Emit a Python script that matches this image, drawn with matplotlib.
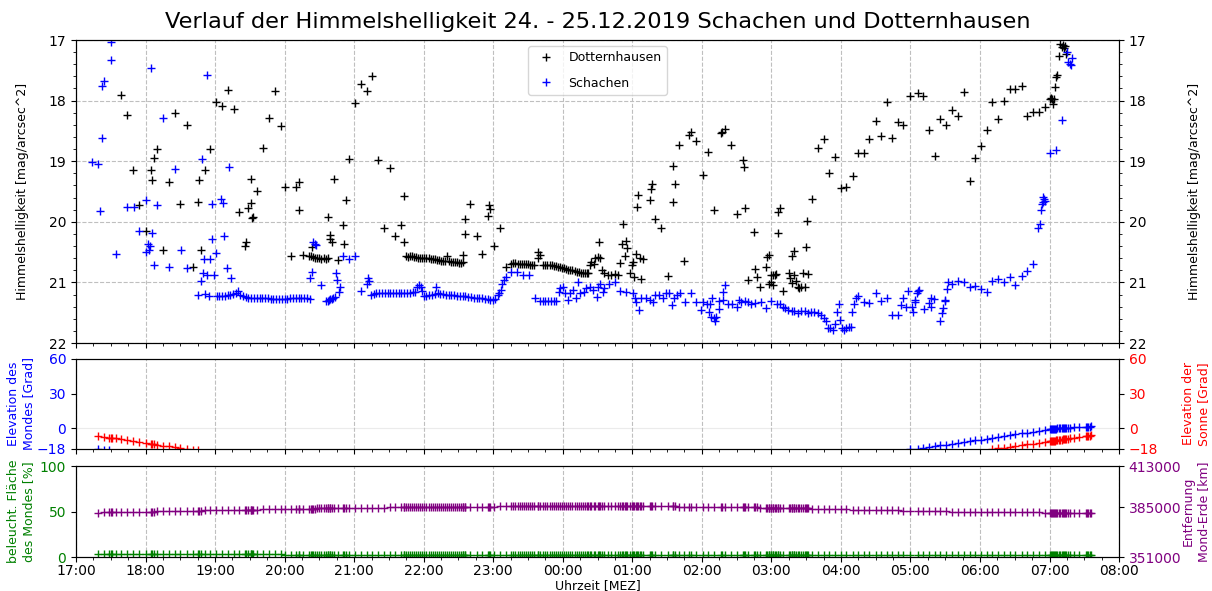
import matplotlib
matplotlib.use('Agg')
import matplotlib.pyplot as plt
from matplotlib.ticker import MultipleLocator, FuncFormatter

# Uhrzeit in Stunden ab 24.12. 00:00 (Werte >= 24 liegen am 25.12.)
# Dotternhausen: (Uhrzeit, Himmelshelligkeit [mag/arcsec^2])
dotternhausen = [
    (17.32, 15.6), (17.40, 16.1), (17.48, 16.5), (17.50, 16.6), (17.52, 16.7), (17.57, 16.9),
    (17.65, 17.91), (17.74, 18.24), (17.82, 19.15), (17.91, 19.73),
    (18.00, 20.15), (18.08, 19.14), (18.09, 19.31), (18.12, 18.95), (18.17, 18.80), (18.25, 20.47),
    (18.34, 19.34), (18.42, 18.20), (18.50, 19.70), (18.59, 18.40), (18.68, 20.75), (18.76, 19.68),
    (18.77, 19.31), (18.80, 20.47), (18.86, 19.14), (18.93, 18.80),
    (19.01, 18.02), (19.10, 18.09), (19.18, 17.82), (19.27, 18.14), (19.35, 19.84), (19.43, 20.40),
    (19.45, 20.33), (19.47, 19.77), (19.51, 19.69), (19.52, 19.29), (19.53, 19.93), (19.55, 19.92),
    (19.61, 19.49), (19.69, 18.78), (19.78, 18.29), (19.86, 17.84), (19.95, 18.42),
    (20.01, 19.43), (20.09, 20.57), (20.17, 19.43), (20.20, 19.80), (20.21, 19.35), (20.26, 20.54),
    (20.35, 20.57), (20.38, 20.57), (20.39, 20.42), (20.41, 20.58), (20.44, 20.60), (20.47, 20.60),
    (20.50, 20.60), (20.53, 20.61), (20.56, 20.60), (20.59, 20.61), (20.62, 20.60), (20.63, 19.92),
    (20.65, 20.21), (20.66, 20.29), (20.68, 20.33), (20.71, 19.29), (20.77, 20.63), (20.84, 20.05),
    (20.86, 20.37), (20.88, 19.64), (20.93, 18.96),
    (21.01, 18.04), (21.10, 17.72), (21.18, 17.84), (21.26, 17.60), (21.34, 18.98), (21.43, 20.10),
    (21.51, 19.12), (21.59, 20.24), (21.68, 20.06), (21.71, 19.57), (21.72, 20.33), (21.74, 20.57),
    (21.77, 20.58), (21.80, 20.56), (21.83, 20.57), (21.86, 20.58), (21.89, 20.58), (21.92, 20.59),
    (21.95, 20.59), (21.98, 20.59),
    (22.01, 20.60), (22.04, 20.60), (22.07, 20.60), (22.10, 20.61), (22.13, 20.62), (22.16, 20.62),
    (22.19, 20.63), (22.22, 20.63), (22.25, 20.64), (22.28, 20.64), (22.31, 20.65), (22.33, 20.57),
    (22.36, 20.65), (22.39, 20.66), (22.42, 20.66), (22.45, 20.67), (22.48, 20.67), (22.51, 20.68),
    (22.54, 20.68), (22.56, 20.67), (22.57, 20.55), (22.59, 20.20), (22.60, 19.96), (22.67, 19.70),
    (22.76, 20.24), (22.84, 20.53), (22.92, 19.90), (22.94, 19.73), (22.96, 19.79),
    (23.01, 20.40), (23.10, 20.10), (23.18, 20.74), (23.26, 20.70), (23.29, 20.68), (23.32, 20.68),
    (23.35, 20.69), (23.38, 20.69), (23.41, 20.70), (23.44, 20.70), (23.47, 20.70), (23.50, 20.70),
    (23.53, 20.71), (23.56, 20.71), (23.59, 20.71), (23.64, 20.60), (23.65, 20.49), (23.67, 20.55),
    (23.72, 20.71), (23.75, 20.71), (23.78, 20.72), (23.81, 20.72), (23.84, 20.72), (23.87, 20.73),
    (23.90, 20.73), (23.93, 20.74), (23.96, 20.75), (23.99, 20.76),
    (24.02, 20.77), (24.05, 20.78), (24.08, 20.79), (24.11, 20.79), (24.14, 20.80), (24.17, 20.81),
    (24.20, 20.82), (24.23, 20.83), (24.26, 20.84), (24.29, 20.84), (24.32, 20.85), (24.35, 20.85),
    (24.37, 20.85), (24.39, 20.71), (24.41, 20.66), (24.45, 20.69), (24.47, 20.60), (24.50, 20.58),
    (24.52, 20.33), (24.53, 20.60), (24.56, 20.80), (24.60, 20.85), (24.65, 20.88), (24.70, 20.87),
    (24.75, 20.86), (24.80, 20.87), (24.83, 20.68), (24.85, 20.37), (24.87, 20.04), (24.89, 20.57),
    (24.91, 20.32), (24.93, 20.43), (24.96, 20.85), (24.99, 20.71),
    (25.01, 20.66), (25.03, 20.91), (25.06, 20.53), (25.07, 19.75), (25.08, 19.56), (25.11, 20.59),
    (25.13, 20.95), (25.16, 20.62), (25.25, 19.64), (25.27, 19.46), (25.28, 19.37), (25.33, 19.96),
    (25.41, 20.11), (25.51, 20.90), (25.58, 19.68), (25.59, 19.08), (25.61, 19.38), (25.67, 18.73),
    (25.75, 20.64), (25.82, 18.57), (25.84, 18.52), (25.91, 18.67),
    (26.01, 19.22), (26.09, 18.85), (26.18, 19.81), (26.27, 18.53), (26.29, 18.52), (26.34, 18.47),
    (26.42, 18.74), (26.51, 19.87), (26.59, 18.98), (26.60, 19.09), (26.62, 19.78), (26.67, 20.96),
    (26.75, 20.16), (26.77, 20.78), (26.79, 20.91), (26.84, 21.07), (26.92, 20.74), (26.94, 20.58),
    (26.96, 20.55), (26.97, 21.02), (26.99, 20.99),
    (27.00, 20.87), (27.02, 21.04), (27.03, 20.87), (27.05, 20.87), (27.07, 20.86), (27.09, 20.18),
    (27.10, 19.84), (27.12, 19.78), (27.17, 21.14), (27.25, 20.84), (27.27, 20.93), (27.29, 21.01),
    (27.30, 20.56), (27.32, 20.48), (27.33, 20.87), (27.36, 20.98), (27.38, 21.08), (27.40, 21.10),
    (27.43, 21.07), (27.46, 20.84), (27.49, 21.07), (27.50, 20.42), (27.51, 19.98), (27.53, 20.86),
    (27.59, 19.63), (27.67, 18.78), (27.75, 18.64), (27.83, 19.19), (27.91, 18.93),
    (28.00, 19.45), (28.08, 19.42), (28.17, 19.24), (28.25, 18.87), (28.33, 18.87), (28.41, 18.64),
    (28.50, 18.33), (28.58, 18.58), (28.66, 18.02), (28.74, 18.62), (28.82, 18.36), (28.90, 18.41),
    (28.99, 17.93),
    (29.11, 17.87), (29.18, 17.93), (29.27, 18.48), (29.35, 18.92), (29.43, 18.30), (29.51, 18.41),
    (29.60, 18.15), (29.68, 18.25), (29.77, 17.86), (29.85, 19.33), (29.93, 18.95),
    (30.01, 18.75), (30.10, 18.48), (30.18, 18.03), (30.26, 18.30), (30.35, 18.01), (30.43, 17.81),
    (30.51, 17.81), (30.60, 17.76), (30.68, 18.26), (30.76, 18.19), (30.85, 18.18), (30.93, 18.11),
    (31.01, 17.97), (31.02, 17.95), (31.03, 17.98), (31.05, 18.05), (31.07, 17.97), (31.08, 17.77),
    (31.10, 17.61), (31.11, 17.57), (31.13, 17.26), (31.15, 17.06), (31.18, 17.12), (31.20, 17.09),
    (31.21, 17.14), (31.23, 17.10), (31.24, 17.23), (31.27, 16.9), (31.30, 16.8), (31.35, 16.6),
    (31.43, 16.3), (31.52, 16.0), (31.54, 15.9), (31.56, 15.9), (31.58, 15.8), (31.60, 15.7),
]

# Schachen: (Uhrzeit, Himmelshelligkeit [mag/arcsec^2])
schachen = [
    (17.23, 19.02), (17.32, 19.04), (17.34, 19.82), (17.37, 17.76), (17.38, 18.62), (17.40, 17.68),
    (17.50, 17.33), (17.51, 17.04), (17.58, 20.53), (17.74, 19.75), (17.83, 19.76), (17.91, 20.15),
    (18.00, 20.49), (18.01, 19.64), (18.04, 20.37), (18.05, 20.47), (18.07, 20.40), (18.08, 17.46),
    (18.10, 20.18), (18.12, 20.71), (18.17, 19.73), (18.25, 18.29), (18.34, 20.75), (18.42, 19.13),
    (18.51, 20.46), (18.59, 20.77), (18.76, 21.20), (18.80, 20.98), (18.81, 18.96), (18.82, 20.85),
    (18.84, 20.62), (18.86, 21.19), (18.88, 17.57), (18.89, 20.87), (18.91, 21.23), (18.93, 20.62),
    (18.95, 20.28), (18.96, 19.70), (18.98, 20.88), (19.02, 20.52), (19.03, 21.22), (19.06, 21.23),
    (19.08, 19.63), (19.10, 21.23), (19.12, 19.69), (19.13, 20.23), (19.14, 21.22), (19.17, 20.77),
    (19.18, 21.21), (19.20, 19.10), (19.22, 21.21), (19.23, 20.92), (19.26, 21.19), (19.30, 21.17),
    (19.33, 21.14), (19.36, 21.21), (19.40, 21.23), (19.44, 21.24), (19.48, 21.25), (19.52, 21.25),
    (19.56, 21.26), (19.60, 21.26), (19.64, 21.26), (19.68, 21.26), (19.72, 21.26), (19.76, 21.26),
    (19.80, 21.27), (19.84, 21.27), (19.88, 21.27), (19.92, 21.27), (19.96, 21.27), (20.00, 21.28),
    (20.04, 21.27), (20.08, 21.26), (20.12, 21.26), (20.16, 21.26), (20.20, 21.26), (20.24, 21.26),
    (20.28, 21.26), (20.32, 21.26), (20.36, 21.27), (20.37, 20.92), (20.40, 20.82), (20.41, 20.34),
    (20.44, 20.36), (20.45, 20.38), (20.52, 21.05), (20.59, 21.30), (20.62, 21.30), (20.64, 21.29),
    (20.66, 21.28), (20.68, 21.27), (20.70, 21.25), (20.72, 21.24), (20.74, 20.84), (20.76, 20.96),
    (20.78, 21.16), (20.79, 21.08), (20.84, 20.57), (20.92, 20.62), (21.01, 20.56), (21.10, 21.14),
    (21.18, 21.03), (21.20, 20.93), (21.22, 20.98), (21.24, 21.20), (21.28, 21.19), (21.32, 21.18),
    (21.36, 21.18), (21.40, 21.17), (21.44, 21.17), (21.48, 21.17), (21.52, 21.17), (21.56, 21.17),
    (21.60, 21.17), (21.64, 21.17), (21.68, 21.17), (21.72, 21.17), (21.76, 21.17), (21.80, 21.17),
    (21.84, 21.16), (21.88, 21.15), (21.90, 21.08), (21.93, 21.04), (21.96, 21.08), (21.98, 21.14),
    (22.00, 21.23), (22.04, 21.22), (22.08, 21.21), (22.12, 21.20), (22.16, 21.19), (22.18, 21.07),
    (22.20, 21.18), (22.24, 21.19), (22.28, 21.19), (22.32, 21.20), (22.36, 21.20), (22.40, 21.21),
    (22.44, 21.21), (22.48, 21.22), (22.52, 21.22), (22.56, 21.23), (22.60, 21.23), (22.64, 21.24),
    (22.68, 21.24), (22.72, 21.25), (22.76, 21.25), (22.80, 21.26), (22.84, 21.26), (22.88, 21.27),
    (22.92, 21.28), (22.96, 21.29), (23.00, 21.29), (23.03, 21.28), (23.07, 21.21), (23.09, 21.18),
    (23.11, 21.13), (23.13, 21.02), (23.16, 20.96), (23.18, 20.91), (23.26, 20.82), (23.34, 20.82),
    (23.43, 20.87), (23.52, 20.87), (23.60, 21.26), (23.67, 21.30), (23.71, 21.30), (23.75, 21.31),
    (23.79, 21.31), (23.83, 21.31), (23.87, 21.31), (23.91, 21.30), (23.94, 21.15), (23.96, 21.10),
    (24.00, 21.07), (24.03, 21.18), (24.08, 21.29), (24.11, 21.18), (24.15, 21.13), (24.19, 21.26),
    (24.22, 20.99), (24.25, 21.18), (24.30, 21.15), (24.34, 21.10), (24.39, 21.07), (24.44, 21.13),
    (24.49, 21.24), (24.51, 21.07), (24.53, 21.02), (24.58, 21.15), (24.60, 21.10), (24.67, 21.03),
    (24.75, 20.99), (24.83, 21.14), (24.91, 21.16), (25.01, 21.18), (25.04, 21.26), (25.06, 21.32),
    (25.10, 21.45), (25.13, 21.26), (25.20, 21.26), (25.25, 21.29), (25.30, 21.32), (25.33, 21.21),
    (25.39, 21.21), (25.44, 21.26), (25.49, 21.18), (25.53, 21.18), (25.57, 21.38), (25.60, 21.26),
    (25.65, 21.21), (25.69, 21.18), (25.76, 21.32), (25.84, 21.17), (25.91, 21.32), (25.99, 21.46),
    (26.02, 21.32), (26.08, 21.35), (26.10, 21.48), (26.12, 21.35), (26.13, 21.57), (26.15, 21.25),
    (26.17, 21.58), (26.19, 21.64), (26.20, 21.57), (26.24, 21.44), (26.25, 21.30), (26.30, 21.29),
    (26.31, 21.15), (26.33, 21.05), (26.37, 21.35), (26.43, 21.35), (26.51, 21.40), (26.54, 21.29),
    (26.57, 21.32), (26.62, 21.30), (26.67, 21.32), (26.71, 21.36), (26.76, 21.34), (26.85, 21.32),
    (26.93, 21.43), (27.00, 21.30), (27.08, 21.36), (27.12, 21.35), (27.17, 21.40), (27.20, 21.43),
    (27.24, 21.46), (27.29, 21.47), (27.33, 21.47), (27.38, 21.51), (27.43, 21.47), (27.48, 21.47),
    (27.52, 21.51), (27.57, 21.48), (27.62, 21.49), (27.67, 21.51), (27.71, 21.54), (27.75, 21.59),
    (27.78, 21.63), (27.81, 21.76), (27.85, 21.75), (27.88, 21.79), (27.92, 21.68), (27.94, 21.48),
    (27.97, 21.35), (27.99, 21.62), (28.01, 21.76), (28.05, 21.79), (28.08, 21.75), (28.12, 21.74),
    (28.14, 21.73), (28.16, 21.48), (28.19, 21.35), (28.22, 21.26), (28.25, 21.23), (28.33, 21.32),
    (28.41, 21.34), (28.50, 21.18), (28.58, 21.30), (28.66, 21.26), (28.74, 21.53), (28.82, 21.53),
    (28.86, 21.37), (28.89, 21.26), (28.93, 21.40), (28.97, 21.14), (29.02, 21.40), (29.04, 21.49),
    (29.06, 21.32), (29.07, 21.29), (29.09, 21.18), (29.11, 21.14), (29.12, 21.13), (29.19, 21.44),
    (29.26, 21.34), (29.29, 21.40), (29.30, 21.26), (29.34, 21.27), (29.43, 21.64), (29.45, 21.51),
    (29.47, 21.43), (29.49, 21.31), (29.50, 21.29), (29.52, 21.11), (29.54, 21.00), (29.60, 21.03),
    (29.68, 20.97), (29.77, 21.00), (29.85, 21.07), (29.93, 21.06), (30.01, 21.11), (30.10, 21.15),
    (30.18, 20.97), (30.26, 20.95), (30.35, 21.00), (30.43, 20.91), (30.51, 21.05), (30.60, 20.89),
    (30.68, 20.81), (30.76, 20.70), (30.84, 20.10), (30.86, 20.04), (30.88, 19.81), (30.89, 19.71),
    (30.90, 19.59), (30.91, 19.68), (30.92, 19.62), (30.94, 19.65), (31.01, 18.86), (31.10, 18.82),
    (31.18, 18.32), (31.25, 17.20), (31.27, 17.37), (31.29, 17.40), (31.31, 17.41), (31.32, 17.30),
]

# Entfernung Mond-Erde [1000 km] zu den Messzeiten von Dotternhausen
entf_mond = [
    381.3, 381.4, 381.4, 381.4, 381.5, 381.5, 381.6, 381.7, 381.7, 381.8,
    381.9, 382.0, 382.0, 382.0, 382.1, 382.1, 382.2, 382.3, 382.4, 382.4, 382.5, 382.6, 382.6, 382.6,
    382.7, 382.7,
    382.8, 382.9, 383.0, 383.0, 383.1, 383.2, 383.2, 383.2, 383.3, 383.3, 383.3, 383.3, 383.3, 383.4,
    383.5, 383.5, 383.6,
    383.7, 383.7, 383.8, 383.8, 383.8, 383.9, 384.0, 384.0, 384.0, 384.0, 384.0, 384.1, 384.1, 384.1,
    384.1, 384.2, 384.2, 384.2, 384.2, 384.2, 384.2, 384.3, 384.3, 384.4, 384.4, 384.4, 384.4,
    384.5, 384.5, 384.6, 384.6, 384.7, 384.7, 384.8, 384.8, 384.9, 384.9, 384.9, 384.9, 384.9, 385.0,
    385.0, 385.0, 385.0, 385.0, 385.0, 385.1,
    385.1, 385.1, 385.1, 385.1, 385.1, 385.2, 385.2, 385.2, 385.2, 385.2, 385.2, 385.2, 385.3, 385.3,
    385.3, 385.3, 385.3, 385.3, 385.3, 385.3, 385.3, 385.3, 385.3, 385.3, 385.4, 385.4, 385.4, 385.4,
    385.4,
    385.4, 385.5, 385.5, 385.5, 385.5, 385.5, 385.5, 385.5, 385.5, 385.5, 385.5, 385.5, 385.5, 385.5,
    385.5, 385.6, 385.6, 385.6, 385.6, 385.6, 385.6, 385.6, 385.6, 385.6, 385.6, 385.6, 385.6, 385.6,
    385.6, 385.6, 385.6, 385.6, 385.6, 385.6, 385.6, 385.6, 385.6, 385.6, 385.6, 385.6, 385.6, 385.6,
    385.6, 385.6, 385.6, 385.6, 385.6, 385.6, 385.6, 385.6, 385.6, 385.6, 385.6, 385.6, 385.6, 385.6,
    385.6, 385.6, 385.6, 385.6, 385.6, 385.6,
    385.6, 385.6, 385.6, 385.6, 385.6, 385.6, 385.6, 385.6, 385.6, 385.5, 385.5, 385.5, 385.5, 385.5,
    385.5, 385.5, 385.5, 385.4, 385.4, 385.4, 385.4, 385.4,
    385.3, 385.3, 385.3, 385.2, 385.2, 385.2, 385.1, 385.0, 385.0, 385.0, 384.9, 384.9, 384.8, 384.8,
    384.8, 384.7, 384.6, 384.6, 384.6, 384.6, 384.6,
    384.5, 384.5, 384.5, 384.5, 384.5, 384.5, 384.5, 384.5, 384.4, 384.4, 384.3, 384.3, 384.3, 384.3,
    384.3, 384.2, 384.2, 384.2, 384.2, 384.1, 384.1, 384.1, 384.1, 384.1, 384.0, 383.9, 383.8, 383.7,
    383.6,
    383.5, 383.4, 383.3, 383.2, 383.1, 383.0, 382.9, 382.9, 382.8, 382.7, 382.7, 382.6, 382.5,
    382.4, 382.4, 382.3, 382.2, 382.2, 382.1, 382.0, 382.0, 381.9, 381.9, 381.8,
    381.8, 381.7, 381.7, 381.6, 381.6, 381.5, 381.5, 381.5, 381.4, 381.4, 381.4, 381.3,
    381.3, 381.3, 381.3, 381.3, 381.3, 381.3, 381.3, 381.3, 381.3, 381.3, 381.3, 381.3, 381.3, 381.3,
    381.3, 381.2, 381.2, 381.2, 381.2, 381.2, 381.2, 381.2, 381.2, 381.2,
]

# beleuchtete Flaeche des Mondes [%] zu den Messzeiten von Dotternhausen
flaeche_mond = [
    2.9, 2.9, 2.9, 2.9, 2.9, 2.9, 2.9, 2.9, 2.9, 2.9,
    2.9, 2.9, 2.9, 2.9, 2.9, 2.9, 2.9, 2.9, 2.9, 2.9, 2.9, 2.9, 2.9, 2.9, 2.9, 2.9,
    2.8, 2.8, 2.8, 2.8, 2.8, 2.8, 2.8, 2.8, 2.8, 2.8, 2.8, 2.8, 2.8, 2.8, 2.8, 2.8, 2.8,
    2.7, 2.7, 2.7, 2.7, 2.7, 2.7, 2.7, 2.7, 2.7, 2.7, 2.7, 2.7, 2.7, 2.7, 2.7, 2.7, 2.7, 2.7,
    2.7, 2.7, 2.7, 2.7, 2.7, 2.7, 2.7, 2.7, 2.7,
    2.6, 2.6, 2.6, 2.6, 2.6, 2.6, 2.6, 2.6, 2.6, 2.6, 2.6, 2.6, 2.6, 2.6, 2.6, 2.6, 2.6, 2.6, 2.6, 2.6,
    2.6, 2.6, 2.6, 2.6, 2.6, 2.6, 2.6, 2.6, 2.6, 2.6, 2.6, 2.6, 2.6, 2.6, 2.6, 2.6, 2.6, 2.6, 2.6, 2.6,
    2.6, 2.6, 2.6, 2.6, 2.6, 2.6, 2.6, 2.6, 2.6,
    2.5, 2.5, 2.5, 2.5, 2.5, 2.5, 2.5, 2.5, 2.5, 2.5, 2.5, 2.5, 2.5, 2.5, 2.5, 2.5, 2.5, 2.5, 2.5, 2.5,
    2.5, 2.5, 2.5, 2.5, 2.5, 2.5, 2.5, 2.5,
    2.4, 2.4, 2.4, 2.4, 2.4, 2.4, 2.4, 2.4, 2.4, 2.4, 2.4, 2.4, 2.4, 2.4, 2.4, 2.4, 2.4, 2.4, 2.4, 2.4,
    2.4, 2.4, 2.4, 2.4, 2.4, 2.4, 2.4, 2.4, 2.4, 2.4, 2.4, 2.4, 2.4, 2.4,
    2.3, 2.3, 2.3, 2.3, 2.3, 2.3, 2.3, 2.3, 2.3, 2.3, 2.3, 2.3, 2.3, 2.3, 2.3, 2.3, 2.3, 2.3, 2.3, 2.3,
    2.3, 2.3,
    2.2, 2.2, 2.2, 2.2, 2.2, 2.2, 2.2, 2.2, 2.2, 2.2, 2.2, 2.2, 2.2, 2.2, 2.2, 2.2, 2.2, 2.2, 2.2, 2.2,
    2.2,
    2.1, 2.1, 2.1, 2.1, 2.1, 2.1, 2.1, 2.1, 2.1, 2.1, 2.1, 2.1, 2.1, 2.1, 2.1, 2.1, 2.1, 2.1, 2.1, 2.1,
    2.1, 2.1, 2.1, 2.1, 2.1, 2.1, 2.1, 2.1, 2.1,
    2.0, 2.0, 2.0, 2.0, 2.0, 2.0, 2.0, 2.0, 2.0, 2.0, 2.0, 2.0, 2.0,
    1.9, 1.9, 1.9, 1.9, 1.9, 1.9, 1.9, 1.9, 1.9, 1.9, 1.9,
    1.9, 1.9, 1.9, 1.9, 1.9, 1.9, 1.9, 1.9, 1.9, 1.9, 1.9, 1.9,
    1.8, 1.8, 1.8, 1.8, 1.8, 1.8, 1.8, 1.8, 1.8, 1.8, 1.8, 1.8, 1.8, 1.8, 1.8, 1.8, 1.8, 1.8, 1.8, 1.8,
    1.8, 1.8, 1.8, 1.8,
]

# Elevation des Mondes [Grad] (nur der sichtbare Bereich)
mond_elevation = [
    (17.32, -18.3), (17.40, -18.6), (17.48, -18.9),
    (28.99, -18.4), (29.11, -17.6), (29.18, -17.0), (29.27, -16.3), (29.35, -15.6), (29.43, -14.9),
    (29.51, -14.2), (29.60, -13.4), (29.68, -12.7), (29.77, -11.9), (29.85, -11.2), (29.93, -10.5),
    (30.01, -9.8), (30.10, -9.0), (30.18, -8.2), (30.26, -7.5), (30.35, -6.7), (30.43, -6.0),
    (30.51, -5.3), (30.60, -4.5), (30.68, -3.8), (30.76, -3.1), (30.85, -2.3), (30.93, -1.6),
    (31.01, -0.9), (31.02, -0.8), (31.03, -0.8), (31.05, -0.6), (31.07, -0.5), (31.08, -0.4),
    (31.10, -0.3), (31.11, -0.2), (31.13, -0.1), (31.15, 0.0), (31.18, 0.1), (31.20, 0.2),
    (31.21, 0.2), (31.23, 0.3), (31.24, 0.3), (31.27, 0.4), (31.30, 0.5), (31.35, 0.7),
    (31.43, 0.9), (31.52, 1.2), (31.54, 1.3), (31.56, 1.3), (31.58, 1.4), (31.60, 1.5),
]

# Elevation der Sonne [Grad] (nur der sichtbare Bereich)
sonne_elevation = [
    (17.32, -6.7), (17.40, -7.4), (17.48, -8.1), (17.50, -8.3), (17.52, -8.5), (17.57, -8.9),
    (17.65, -9.6), (17.74, -10.4), (17.82, -11.2), (17.91, -12.0), (18.00, -12.8), (18.08, -13.5),
    (18.09, -13.6), (18.12, -13.9), (18.17, -14.3), (18.25, -15.0), (18.34, -15.8), (18.42, -16.5),
    (18.50, -17.2), (18.59, -18.0), (18.68, -18.6), (18.76, -19.0),
    (30.18, -18.2), (30.26, -17.5), (30.35, -16.8), (30.43, -16.1), (30.51, -15.4), (30.60, -14.7),
    (30.68, -14.0), (30.76, -13.3), (30.85, -12.6), (30.93, -11.9), (31.01, -11.3), (31.02, -11.2),
    (31.03, -11.1), (31.05, -10.9), (31.07, -10.8), (31.08, -10.7), (31.10, -10.5), (31.11, -10.4),
    (31.13, -10.3), (31.15, -10.1), (31.18, -9.8), (31.20, -9.7), (31.21, -9.6), (31.23, -9.4),
    (31.24, -9.3), (31.27, -9.1), (31.30, -8.8), (31.35, -8.4), (31.43, -7.7), (31.52, -7.0),
    (31.54, -6.8), (31.56, -6.7), (31.58, -6.5), (31.60, -6.3),
]

zeit_dott, hell_dott = zip(*dotternhausen)
zeit_scha, hell_scha = zip(*schachen)
zeit_mond, elev_mond = zip(*mond_elevation)
zeit_sonne, elev_sonne = zip(*sonne_elevation)


def uhrzeit(x, pos):
    return '%02d:00' % (int(round(x)) % 24)


fig = plt.figure(figsize=(12.12, 5.91), dpi=100)
links = 0.0627
breite = 0.8606
label_groesse = 9

# [Himmelshelligkeit]
ax_hell = fig.add_axes([links, 0.4196, breite, 0.5127])
ax_hell.plot(zeit_dott, hell_dott, 'k+', label='Dotternhausen')
ax_hell.plot(zeit_scha, hell_scha, 'b+', label='Schachen')
ax_hell.set_xlim(17, 32)
ax_hell.set_ylim(22, 17)
ax_hell.yaxis.set_major_locator(MultipleLocator(1))
ax_hell.yaxis.set_minor_locator(MultipleLocator(0.2))
ax_hell.xaxis.set_major_locator(MultipleLocator(1))
ax_hell.xaxis.set_minor_locator(MultipleLocator(0.25))
ax_hell.tick_params(labelbottom=False)
ax_hell.grid(True, ls='--', color='0.75', lw=0.8)
ax_hell.set_ylabel('Himmelshelligkeit [mag/arcsec^2]', fontsize=label_groesse)
ax_hell.yaxis.set_label_coords(-0.0455, 0.5)
ax_hell.legend(loc='upper center', fontsize=9, labelspacing=1.0)
ax_hell.set_title('Verlauf der Himmelshelligkeit 24. - 25.12.2019 Schachen und Dotternhausen',
                  fontsize=16.2, pad=9)
ax_hell_r = ax_hell.twinx()
ax_hell_r.set_ylim(22, 17)
ax_hell_r.yaxis.set_major_locator(MultipleLocator(1))
ax_hell_r.yaxis.set_minor_locator(MultipleLocator(0.2))
ax_hell_r.set_ylabel('Himmelshelligkeit [mag/arcsec^2]', fontsize=label_groesse)
ax_hell_r.yaxis.set_label_coords(1.0662, 0.5)

# [Elevation Mond und Sonne]
ax_elev = fig.add_axes([links, 0.2403, breite, 0.1523], sharex=ax_hell)
ax_elev.plot(zeit_mond, elev_mond, 'b+')
ax_elev.axhline(0, color='0.92', lw=0.8, zorder=0)
ax_elev.set_ylim(-18, 60)
ax_elev.set_yticks([-18, 0, 30, 60])
ax_elev.tick_params(axis='y', labelcolor='b')
ax_elev.tick_params(labelbottom=False)
ax_elev.grid(True, axis='x', ls='--', color='0.75', lw=0.8)
ax_elev.set_ylabel('Elevation des\nMondes [Grad]', color='b', fontsize=label_groesse)
ax_elev.yaxis.set_label_coords(-0.0393, 0.5)
ax_elev_r = ax_elev.twinx()
ax_elev_r.plot(zeit_sonne, elev_sonne, 'r+')
ax_elev_r.set_ylim(-18, 60)
ax_elev_r.set_yticks([-18, 0, 30, 60])
ax_elev_r.tick_params(axis='y', labelcolor='r')
ax_elev_r.set_ylabel('Elevation der\nSonne [Grad]', color='r', fontsize=label_groesse)
ax_elev_r.yaxis.set_label_coords(1.0604, 0.5)

# [Beleuchtete Flaeche und Entfernung des Mondes]
ax_mond = fig.add_axes([links, 0.0575, breite, 0.1540], sharex=ax_hell)
ax_mond.plot(zeit_dott, flaeche_mond, '+', color='green')
ax_mond.set_ylim(0, 100)
ax_mond.set_yticks([0, 50, 100])
ax_mond.tick_params(axis='y', labelcolor='green')
ax_mond.tick_params(axis='x', pad=1.5)
ax_mond.grid(True, axis='x', ls='--', color='0.75', lw=0.8)
ax_mond.set_ylabel('beleucht. Fläche\ndes Mondes [%]', color='green', fontsize=label_groesse)
ax_mond.yaxis.set_label_coords(-0.0393, 0.5)
ax_mond.xaxis.set_major_formatter(FuncFormatter(uhrzeit))
ax_mond.set_xlabel('Uhrzeit [MEZ]', fontsize=label_groesse, labelpad=0.5)
ax_mond_r = ax_mond.twinx()
ax_mond_r.plot(zeit_dott, [e * 1000 for e in entf_mond], '+', color='purple')
ax_mond_r.set_ylim(351000, 413000)
ax_mond_r.set_yticks([351000, 385000, 413000])
ax_mond_r.tick_params(axis='y', labelcolor='purple')
ax_mond_r.set_ylabel('Entfernung\nMond-Erde [km]', color='purple', fontsize=label_groesse)
ax_mond_r.yaxis.set_label_coords(1.0604, 0.5)

plt.savefig('out.png', dpi=100)
